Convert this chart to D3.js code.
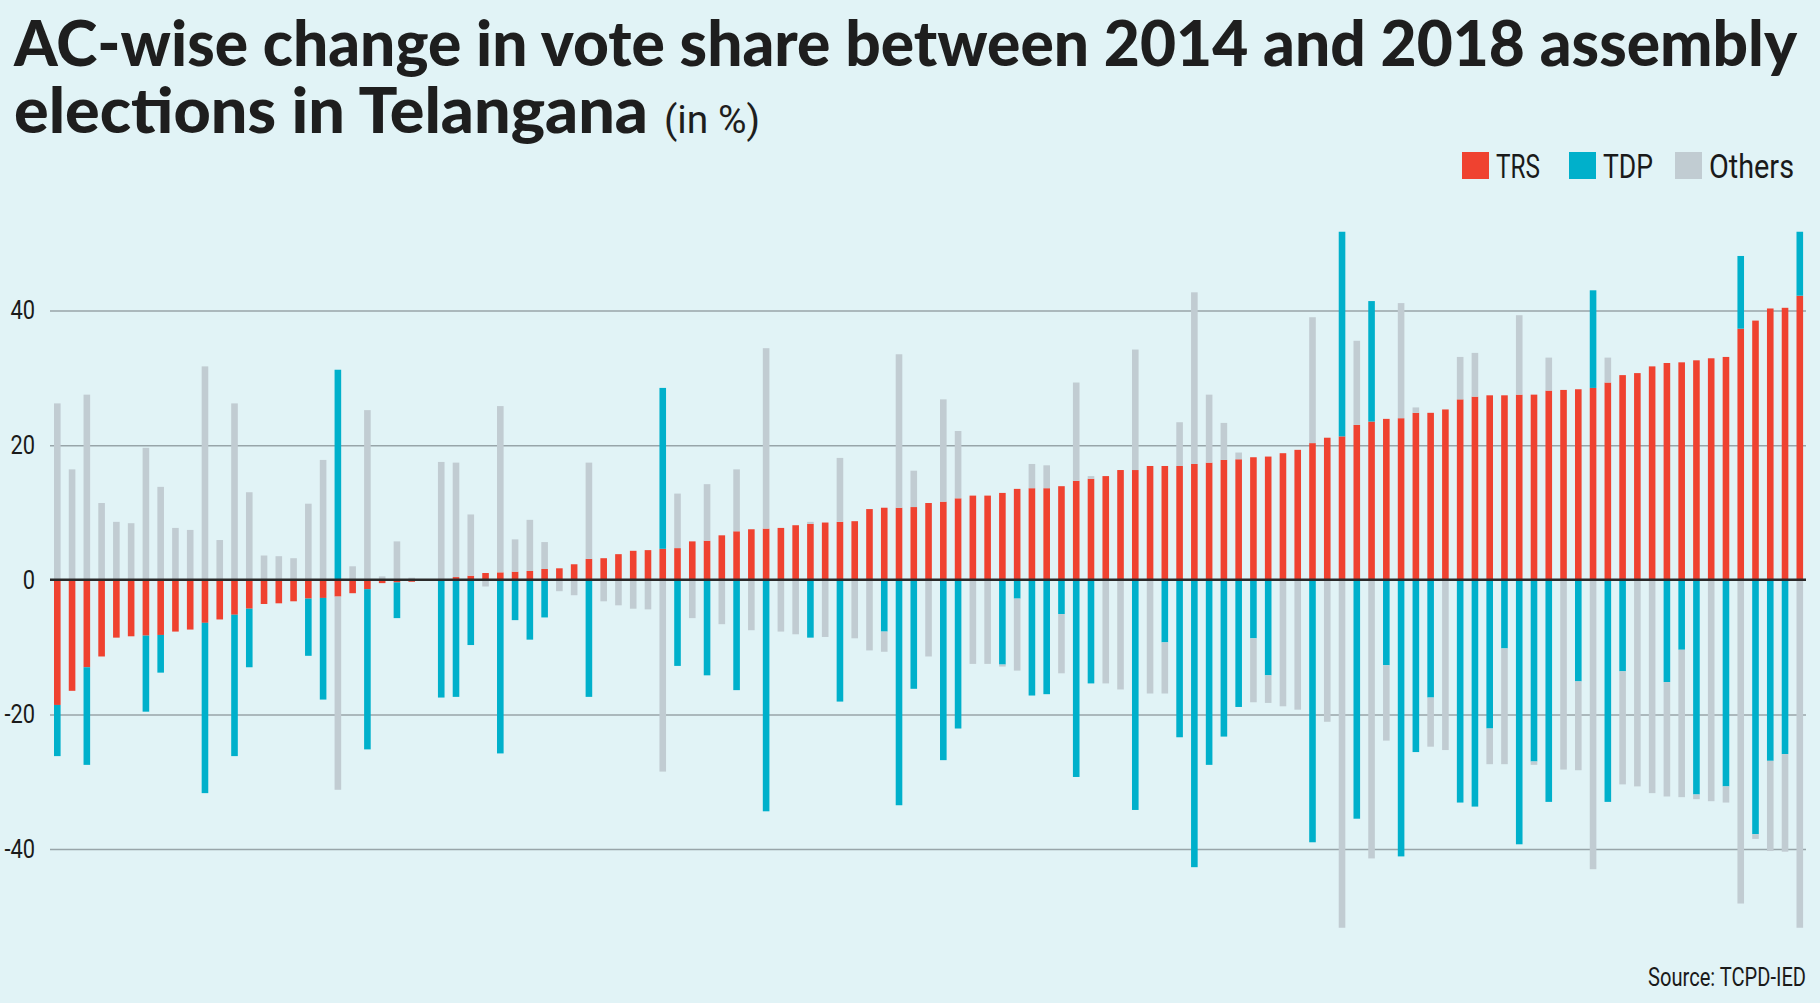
<!DOCTYPE html>
<html>
<head>
<meta charset="utf-8">
<title>AC-wise change in vote share, Telangana</title>
<script src="https://cdnjs.cloudflare.com/ajax/libs/d3/7.8.5/d3.min.js"></script>
<style>
body { margin: 0; background: #e1f3f6; }
svg { display: block; }
</style>
</head>
<body>
<script>
// change in vote share (percentage points) per assembly constituency, sorted by TRS change
var trs = [-18.6, -16.5, -13.0, -11.4, -8.6, -8.4, -8.3, -8.2, -7.7, -7.4,
  -6.4, -5.9, -5.2, -4.3, -3.6, -3.5, -3.2, -2.8, -2.7, -2.5,
  -2.0, -1.4, -0.5, -0.4, -0.3, -0.1, 0.0, 0.4, 0.6, 1.0,
  1.1, 1.2, 1.3, 1.6, 1.7, 2.3, 3.1, 3.2, 3.8, 4.3,
  4.4, 4.6, 4.7, 5.7, 5.8, 6.6, 7.2, 7.5, 7.6, 7.7,
  8.1, 8.3, 8.5, 8.6, 8.7, 10.5, 10.7, 10.7, 10.8, 11.4,
  11.6, 12.1, 12.5, 12.5, 12.9, 13.5, 13.6, 13.6, 13.9, 14.7,
  15.0, 15.4, 16.3, 16.3, 16.9, 16.9, 16.9, 17.2, 17.4, 17.8,
  17.9, 18.2, 18.3, 18.8, 19.3, 20.3, 21.1, 21.3, 23.0, 23.5,
  23.9, 24.0, 24.8, 24.8, 25.3, 26.8, 27.2, 27.4, 27.4, 27.5,
  27.5, 28.1, 28.2, 28.3, 28.5, 29.3, 30.4, 30.7, 31.7, 32.2,
  32.3, 32.6, 32.9, 33.1, 37.3, 38.5, 40.3, 40.4, 42.2];

var tdp = [-7.6, 0, -14.5, 0, 0, 0, -11.3, -5.6, 0, 0,
  -25.3, 0, -21.0, -8.7, 0, 0, 0, -8.5, -15.1, 31.2,
  0, -23.8, 0, -5.3, 0, 0, -17.5, -17.4, -9.7, 0,
  -25.8, -6.0, -8.9, -5.6, 0, 0, -17.4, 0, 0, 0,
  0, 23.9, -12.8, 0, -14.2, 0, -16.4, 0, -34.4, 0,
  0, -8.6, 0, -18.1, 0, 0, -7.7, -33.5, -16.2, 0,
  -26.8, -22.1, 0, 0, -12.6, -2.8, -17.2, -17.0, -5.1, -29.3,
  -15.4, 0, 0, -34.2, 0, -9.3, -23.4, -42.7, -27.5, -23.3,
  -18.9, -8.7, -14.2, 0, 0, -39.0, 0, 30.4, -35.5, 17.9,
  -12.7, -41.1, -25.6, -17.5, 0, -33.1, -33.7, -22.1, -10.2, -39.3,
  -27.0, -33.0, 0, -15.1, 14.5, -33.0, -13.6, 0, 0, -15.2,
  -10.4, -31.9, 0, -30.7, 10.8, -37.8, -26.9, -25.9, 9.5];

var others = [26.2, 16.4, 27.5, 11.4, 8.6, 8.4, 19.6, 13.8, 7.7, 7.4,
  31.7, 5.9, 26.2, 13.0, 3.6, 3.5, 3.2, 11.3, 17.8, -28.7,
  2.0, 25.2, 0.5, 5.7, 0.3, 0.1, 17.5, 17.0, 9.1, -1.0,
  24.7, 4.8, 7.6, 4.0, -1.7, -2.3, 14.3, -3.2, -3.8, -4.3,
  -4.4, -28.5, 8.1, -5.7, 8.4, -6.6, 9.2, -7.5, 26.8, -7.7,
  -8.1, 0.3, -8.5, 9.5, -8.7, -10.5, -3.0, 22.8, 5.4, -11.4,
  15.2, 10.0, -12.5, -12.5, -0.3, -10.7, 3.6, 3.4, -8.8, 14.6,
  0.4, -15.4, -16.3, 17.9, -16.9, -7.6, 6.5, 25.5, 10.1, 5.5,
  1.0, -9.5, -4.1, -18.8, -19.3, 18.7, -21.1, -51.7, 12.5, -41.4,
  -11.2, 17.1, 0.8, -7.3, -25.3, 6.3, 6.5, -5.3, -17.2, 11.8,
  -0.5, 4.9, -28.2, -13.2, -43.0, 3.7, -16.8, -30.7, -31.7, -17.0,
  -21.9, -0.7, -32.9, -2.4, -48.1, -0.7, -13.4, -14.5, -51.7];

var parties = ["TRS", "TDP", "Others"];
var partyColors = ["#ef4230", "#00b0cb", "#c1ccd2"];
var yTicks = [-40, -20, 0, 20, 40];

var width = 1820, height = 1003;
var sans = "Roboto, 'Open Sans', sans-serif";

var svg = d3.select("body").append("svg")
    .attr("width", width)
    .attr("height", height);

svg.append("rect").attr("width", width).attr("height", height).attr("fill", "#e1f3f6");

// squeeze text horizontally to a given width (the original uses a condensed face)
function fit(sel, w) {
    sel.attr("textLength", w).attr("lengthAdjust", "spacingAndGlyphs");
}

var rows = trs.map(function(v, i) {
    return {ac: i + 1, TRS: v, TDP: tdp[i], Others: others[i]};
});

var series = d3.stack()
    .keys(parties)
    .offset(d3.stackOffsetDiverging)(rows);

var x = d3.scalePoint()
    .domain(rows.map(function(d) { return d.ac; }))
    .range([57.3, 1799.8]);

var y = d3.scaleLinear()
    .domain([-40, 40])
    .range([849, 310.5]);

var color = d3.scaleOrdinal().domain(parties).range(partyColors);

var gridLeft = 50, gridRight = 1806;

// gridlines + tick labels
var axis = svg.append("g")
    .attr("transform", "translate(" + gridLeft + ",0)")
    .call(d3.axisLeft(y)
        .tickValues(yTicks)
        .tickSize(-(gridRight - gridLeft))
        .tickPadding(15)
        .tickFormat(function(d) { return String(d); }));

axis.select(".domain").remove();
axis.selectAll(".tick line")
    .attr("stroke", "#98a5a9")
    .attr("stroke-width", 1.5);
axis.selectAll(".tick text")
    .attr("font-family", sans)
    .attr("font-size", 26)
    .attr("fill", "#1a1a1a")
    .each(function() {
        d3.select(this).call(fit, this.getComputedTextLength() * 0.84);
    });

// stacked diverging bars
var bw = 6.6;
svg.append("g")
    .selectAll("g")
    .data(series)
    .join("g")
    .attr("fill", function(d) { return color(d.key); })
    .selectAll("rect")
    .data(function(d) { return d; })
    .join("rect")
    .attr("x", function(d) { return x(d.data.ac) - bw / 2; })
    .attr("width", bw)
    .attr("y", function(d) { return y(Math.max(d[0], d[1])); })
    .attr("height", function(d) { return Math.abs(y(d[0]) - y(d[1])); });

// zero line
svg.append("line")
    .attr("x1", gridLeft)
    .attr("x2", gridRight)
    .attr("y1", y(0))
    .attr("y2", y(0))
    .attr("stroke", "#2a2a2a")
    .attr("stroke-width", 2.5);

// title
var titleFont = "Lato, Roboto, sans-serif";
svg.append("text")
    .attr("x", 14).attr("y", 66)
    .attr("font-family", titleFont)
    .attr("font-weight", 900)
    .attr("font-size", 62)
    .attr("fill", "#1e1e1e")
    .text("AC-wise change in vote share between 2014 and 2018 assembly")
    .call(fit, 1783);

svg.append("text")
    .attr("x", 14).attr("y", 133)
    .attr("font-family", titleFont)
    .attr("font-weight", 900)
    .attr("font-size", 62)
    .attr("fill", "#1e1e1e")
    .text("elections in Telangana")
    .call(fit, 634);

svg.append("text")
    .attr("x", 664).attr("y", 133)
    .attr("font-family", sans)
    .attr("font-size", 38)
    .attr("fill", "#1e1e1e")
    .text("(in %)")
    .call(fit, 96);

// legend
var legendX = [1462, 1569, 1675];
var legendW = [44, 50, 85];
var legend = svg.append("g")
    .selectAll("g")
    .data(parties)
    .join("g")
    .attr("transform", function(d, i) { return "translate(" + legendX[i] + ",152)"; });

legend.append("rect")
    .attr("width", 27)
    .attr("height", 27)
    .attr("fill", function(d) { return color(d); });

legend.append("text")
    .attr("x", 34)
    .attr("y", 26)
    .attr("font-family", sans)
    .attr("font-size", 33)
    .attr("fill", "#1a1a1a")
    .text(function(d) { return d; })
    .each(function(d, i) { d3.select(this).call(fit, legendW[i]); });

// source, right-aligned and squeezed with a scale so it stays inside the frame
var source = svg.append("text")
    .attr("text-anchor", "end")
    .attr("font-family", sans)
    .attr("font-size", 26)
    .attr("fill", "#1a1a1a")
    .text("Source: TCPD-IED");
var k = 158 / source.node().getComputedTextLength();
source.attr("transform", "translate(1806,986) scale(" + k + ",1)");
</script>
</body>
</html>
